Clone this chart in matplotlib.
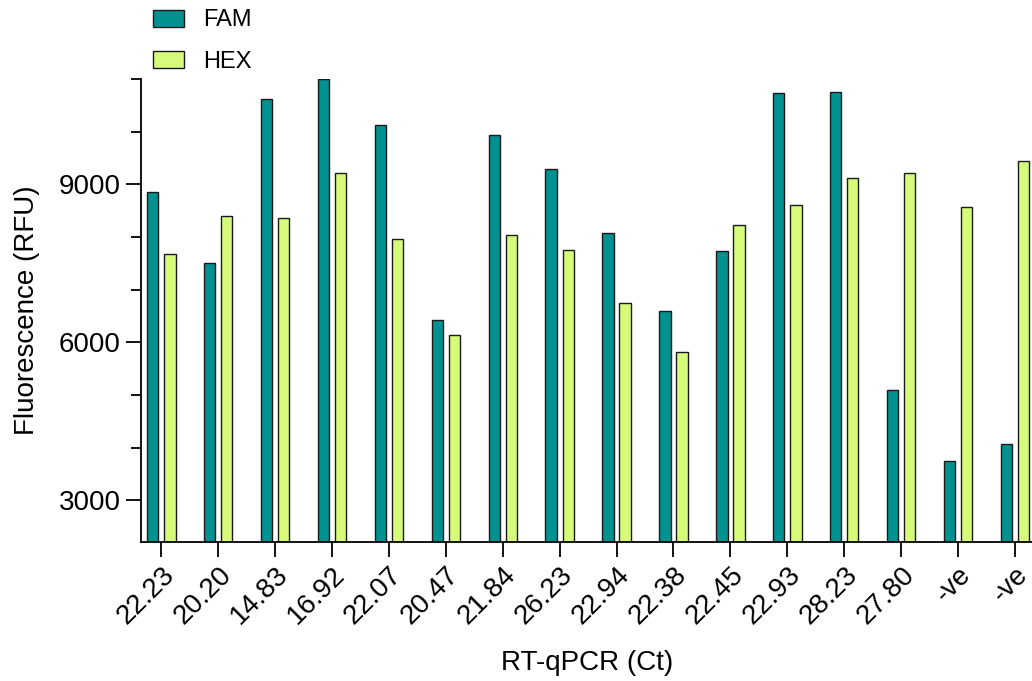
import matplotlib
matplotlib.use('Agg')
import matplotlib.pyplot as plt
import numpy as np

plt.rcParams['font.family'] = ['Liberation Sans', 'DejaVu Sans']

ct_labels = ['22.23', '20.20', '14.83', '16.92', '22.07', '20.47', '21.84', '26.23',
             '22.94', '22.38', '22.45', '22.93', '28.23', '27.80', '-ve', '-ve']
fam = [8850, 7505, 10628, 11000, 10136, 6416, 9946, 9284,
       8073, 6589, 7732, 10741, 10760, 5091, 3757, 4078]
hex_ = [7675, 8394, 8356, 9208, 7959, 6132, 8035, 7751,
        6741, 5811, 8224, 8603, 9114, 9208, 8565, 9435]

fig = plt.figure(figsize=(10.32, 6.81), dpi=100)
ax = fig.add_axes([0.137, 0.204, 0.863, 0.680])

x = np.arange(len(ct_labels))
w = 0.2
ax.bar(x - 0.15, fam, w, color='#009190', edgecolor='#1a1a1a', linewidth=1, label='FAM')
ax.bar(x + 0.15, hex_, w, color='#D6FB7A', edgecolor='#1a1a1a', linewidth=1, label='HEX')

ax.set_xlim(-0.35, 15.3)
ax.set_ylim(2210, 11000)
ax.set_yticks([3000, 6000, 9000])
ax.set_yticks(np.arange(3000, 11001, 1000), minor=True)
ax.set_xticks(x)
ax.set_xticklabels(ct_labels, rotation=45, ha='right', rotation_mode='anchor', fontsize=20)
ax.tick_params(axis='y', which='major', length=11, width=1.3, labelsize=20, pad=4)
ax.tick_params(axis='y', which='minor', length=7, width=1.3)
ax.tick_params(axis='x', length=11, width=1.3, pad=3)

for s in ['top', 'right']:
    ax.spines[s].set_visible(False)
for s in ['left', 'bottom']:
    ax.spines[s].set_linewidth(1.3)

ax.set_ylabel('Fluorescence (RFU)', fontsize=20, labelpad=13)
ax.set_xlabel('RT-qPCR (Ct)', fontsize=20, labelpad=15)

leg = fig.legend(loc='upper left', bbox_to_anchor=(0.144, 0.993), frameon=False,
                 borderpad=0.2, borderaxespad=0,
                 fontsize=17, handlelength=1.31, handleheight=0.72,
                 handletextpad=0.8, labelspacing=0.82)

fig.savefig('out.png', dpi=100)
